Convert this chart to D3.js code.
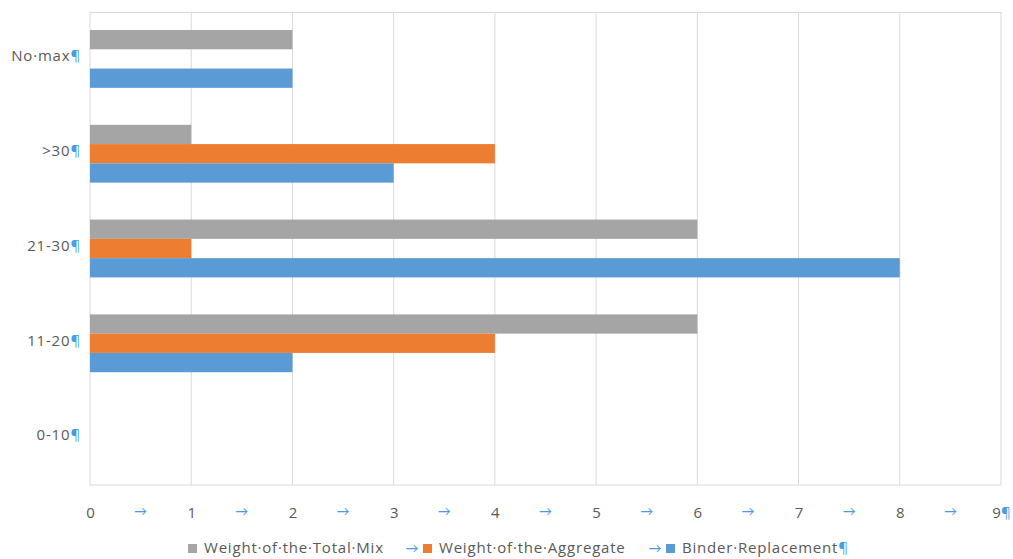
<!DOCTYPE html>
<html>
<head>
<meta charset="utf-8">
<script src="https://cdn.jsdelivr.net/npm/d3@7"></script>
<style>
  html, body { margin: 0; padding: 0; background: #fff; }
  svg text { font-family: "Open Sans", Lato, sans-serif; }
</style>
</head>
<body>
<svg id="chart" width="1013" height="559"></svg>
<script>
// Categories, listed from the top row down
const categories = ["No·max", ">30", "21-30", "11-20", "0-10"];
const seriesNames = ["Weight·of·the·Total·Mix", "Weight·of·the·Aggregate", "Binder·Replacement"];
const totalMix   = [2, 1, 6, 6, 0];
const aggregate  = [0, 4, 1, 4, 0];
const binder     = [2, 3, 8, 2, 0];
const xTicks = [0, 1, 2, 3, 4, 5, 6, 7, 8, 9];
const colors = ["#a5a5a5", "#ed7d31", "#5b9bd5"];

const seriesValues = [totalMix, aggregate, binder];
const markColor = "#4a9be6";
const textColor = "#595959";
const fontSize = 15;
const spacing = "0.8px";

const svg = d3.select("#chart");
const margin = { top: 12, right: 12, bottom: 74, left: 90 };
const W = 1013, H = 559;
const innerW = W - margin.left - margin.right;
const innerH = H - margin.top - margin.bottom;

const g = svg.append("g").attr("transform", `translate(${margin.left},${margin.top})`);

const x = d3.scaleLinear().domain([0, 9]).range([0, innerW]);
const y = d3.scaleBand().domain(categories).range([0, innerH]).paddingInner(0.39).paddingOuter(0.19);
const ySub = d3.scaleBand().domain(d3.range(seriesNames.length)).range([0, y.bandwidth()]);

// Vertical gridlines and frame
g.append("g").selectAll("line").data(xTicks).join("line")
  .attr("x1", d => x(d)).attr("x2", d => x(d))
  .attr("y1", 0).attr("y2", innerH)
  .attr("stroke", "#d9d9d9").attr("stroke-width", 1);
g.append("line").attr("x1", 0).attr("x2", innerW).attr("y1", 0.5).attr("y2", 0.5)
  .attr("stroke", "#d9d9d9");
g.append("line").attr("x1", 0).attr("x2", innerW).attr("y1", innerH).attr("y2", innerH)
  .attr("stroke", "#d9d9d9");

// Bars
const rows = categories.map((c, i) => ({ c, vals: seriesValues.map(s => s[i]) }));
const groups = g.append("g").selectAll("g").data(rows).join("g")
  .attr("transform", d => `translate(0,${y(d.c)})`);
groups.selectAll("rect").data(d => d.vals.map((v, k) => ({ v, k }))).join("rect")
  .attr("x", x(0))
  .attr("y", d => ySub(d.k))
  .attr("width", d => x(d.v) - x(0))
  .attr("height", ySub.bandwidth())
  .attr("fill", d => colors[d.k]);

// Category labels with paragraph marks
const yl = g.append("g").selectAll("text").data(categories).join("text")
  .attr("x", -9)
  .attr("y", d => y(d) + y.bandwidth() / 2 - 3)
  .attr("dy", "0.35em")
  .attr("text-anchor", "end")
  .attr("font-size", fontSize)
  .attr("letter-spacing", spacing)
  .attr("fill", textColor);
yl.append("tspan").text(d => d);
yl.append("tspan").attr("fill", markColor).text("¶");

// Bottom axis labels, separated by tab arrows
const xAxis = d3.axisBottom(x).tickValues(xTicks).tickSize(0).tickPadding(22)
  .tickFormat(d3.format("d"));
const ax = g.append("g").attr("transform", `translate(0,${innerH})`).call(xAxis);
ax.select(".domain").remove();
ax.selectAll("text").attr("font-size", fontSize).attr("fill", textColor)
  .style("font-family", "'Open Sans', Lato, sans-serif");
ax.selectAll(".tick").filter(d => d === xTicks[xTicks.length - 1]).select("text")
  .append("tspan").attr("fill", markColor).text("¶");
g.append("g").selectAll("text").data(xTicks.slice(0, -1)).join("text")
  .attr("x", d => x(d + 0.5))
  .attr("y", innerH + 22)
  .attr("dy", "0.71em")
  .attr("text-anchor", "middle")
  .attr("font-size", 13)
  .attr("fill", markColor)
  .text("→");

// Legend
const legend = svg.append("g").attr("transform", "translate(0,548)");
const legendX = [188, 423, 666];
seriesNames.forEach((name, k) => {
  const lg = legend.append("g").attr("transform", `translate(${legendX[k]},0)`);
  if (k > 0) {
    lg.append("text").attr("x", -11).attr("y", 0).attr("dy", "0.35em")
      .attr("text-anchor", "middle").attr("font-size", 13).attr("fill", markColor).text("→");
  }
  lg.append("rect").attr("x", 0).attr("y", -4).attr("width", 9).attr("height", 9).attr("fill", colors[k]);
  const t = lg.append("text").attr("x", 16).attr("y", 0).attr("dy", "0.35em")
    .attr("font-size", fontSize).attr("letter-spacing", spacing).attr("fill", textColor);
  t.append("tspan").text(name);
  if (k === seriesNames.length - 1) t.append("tspan").attr("fill", markColor).text("¶");
});
</script>
</body>
</html>
